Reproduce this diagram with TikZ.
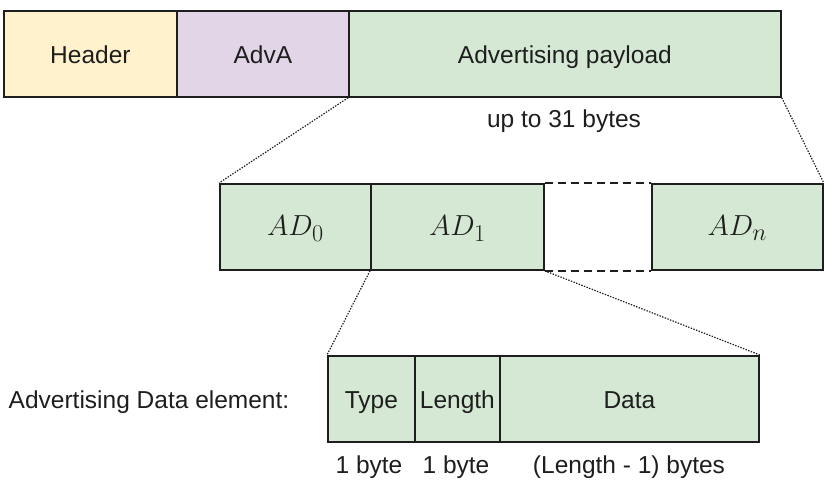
\documentclass[tikz,border=0pt]{standalone}
\usepackage{graphicx}
\usepackage{fontspec}
\setmainfont{Liberation Sans}
\definecolor{hdrc}{HTML}{FFF2CC}
\definecolor{advc}{HTML}{E1D5E7}
\definecolor{grnc}{HTML}{D5E8D4}
\definecolor{edgec}{HTML}{1E1E1E}
\newcommand{\bigmath}[1]{\scalebox{1.166}{\fontsize{24.88}{30}\selectfont$#1$}}
\tikzset{
  field/.style={draw=edgec, line width=1.8pt, minimum height=86pt, inner sep=0pt, anchor=north west,
    text height=25pt, text depth=5pt, text=edgec, font=\fontsize{24.5}{29}\selectfont},
  mathfield/.style={field, text height=24pt, text depth=6pt},
  lbl/.style={inner sep=0pt, anchor=base, font=\fontsize{24.5}{29}\selectfont, text=edgec},
  zoomline/.style={draw=edgec, line width=1.2pt, dash pattern=on 1.4pt off 1.4pt},
  gapline/.style={draw=edgec, line width=1.8pt, dash pattern=on 8pt off 5pt}
}
\begin{document}
\begin{tikzpicture}[x=1pt,y=-1pt]
\useasboundingbox (0,0) rectangle (824,484);
% top row
\node[field, fill=hdrc, minimum width=173pt] (hdr) at (3,10) {Header};
\node[field, fill=advc, minimum width=172pt] (adva) at (176,10) {AdvA};
\node[field, fill=grnc, minimum width=432pt] (pay) at (348,10) {Advertising payload};
\node[lbl] (upto) at (564,128) {up to 31 bytes};
% middle row
\node[mathfield, fill=grnc, minimum width=151pt] (ad0) at (219,183) {\bigmath{AD_0}};
\node[mathfield, fill=grnc, minimum width=173pt] (ad1) at (370,183) {\bigmath{AD_1}};
\node[mathfield, fill=grnc, minimum width=171pt] (adn) at (651,183) {\bigmath{AD_n}};
\draw[gapline] (ad1.north east) -- (adn.north west);
\draw[gapline] (ad1.south east) -- (adn.south west);
% bottom row
\node[field, fill=grnc, minimum width=87pt] (type) at (327,355) {Type};
\node[field, fill=grnc, minimum width=85pt] (len) at (414,355) {Length};
\node[field, fill=grnc, minimum width=259pt] (data) at (499,355) {Data};
\node[lbl] (adel) at (149,408) {Advertising Data element:};
\node[lbl] (b1) at (369,473) {1 byte};
\node[lbl] (b2) at (456,473) {1 byte};
\node[lbl] (b3) at (629,473) {(Length - 1) bytes};
% zoom connectors
\draw[zoomline] (pay.south west) -- (ad0.north west);
\draw[zoomline] (pay.south east) -- (adn.north east);
\draw[zoomline] (ad1.south west) -- (type.north west);
\draw[zoomline] (ad1.south east) -- (data.north east);
\end{tikzpicture}
\end{document}
